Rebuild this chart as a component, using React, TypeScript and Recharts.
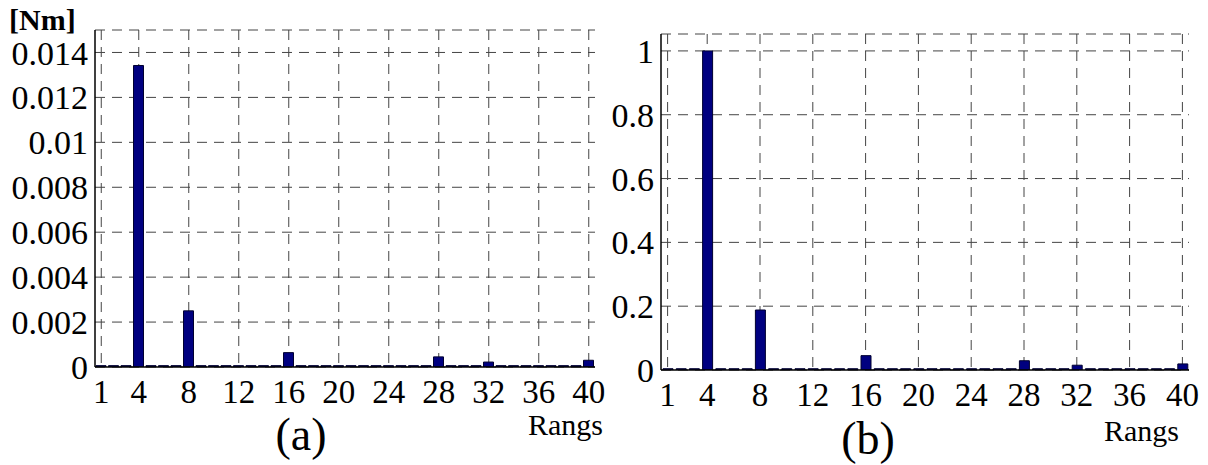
import React from 'react'
import { BarChart, Bar, XAxis, YAxis, CartesianGrid } from 'recharts'

// harmonic orders (Rangs)
const rangs = [1, 2, 3, 4, 5, 6, 7, 8, 9, 10, 11, 12, 13, 14, 15, 16, 17, 18, 19, 20,
  21, 22, 23, 24, 25, 26, 27, 28, 29, 30, 31, 32, 33, 34, 35, 36, 37, 38, 39, 40]

// (a) torque amplitude [Nm]
const torqueNm = [0.00006, 0.00006, 0.00006, 0.01342, 0.00006, 0.00006, 0.00006, 0.0025, 0.00006, 0.00006,
  0.00006, 0.00006, 0.00006, 0.00006, 0.00006, 0.00064, 0.00006, 0.00006, 0.00006, 0.00006,
  0.00006, 0.00006, 0.00006, 0.00006, 0.00006, 0.00006, 0.00006, 0.00045, 0.00006, 0.00006,
  0.00006, 0.00022, 0.00006, 0.00006, 0.00006, 0.00006, 0.00006, 0.00006, 0.00006, 0.0003]

// (b) normalised amplitude
const torqueRel = [0.004, 0.004, 0.004, 1.0, 0.004, 0.004, 0.004, 0.188, 0.004, 0.004,
  0.004, 0.004, 0.004, 0.004, 0.004, 0.045, 0.004, 0.004, 0.004, 0.004,
  0.004, 0.004, 0.004, 0.004, 0.004, 0.004, 0.004, 0.029, 0.004, 0.004,
  0.004, 0.015, 0.004, 0.004, 0.004, 0.004, 0.004, 0.004, 0.004, 0.019]

const xTicks = [1, 4, 8, 12, 16, 20, 24, 28, 32, 36, 40]
const topTicks = [1, 4, 6, 8, 10, 12, 14, 16, 18, 20, 22, 24, 26, 28, 30, 32, 34, 36, 38, 40]

const yTicksA = [0, 0.002, 0.004, 0.006, 0.008, 0.01, 0.012, 0.014]
const yMinorA = [0, 0.001, 0.002, 0.003, 0.004, 0.005, 0.006, 0.007, 0.008, 0.009, 0.01, 0.011, 0.012, 0.013, 0.014, 0.015]
const yTicksB = [0, 0.2, 0.4, 0.6, 0.8, 1]
const yMinorB = [0, 0.04, 0.08, 0.12, 0.16, 0.2, 0.24, 0.28, 0.32, 0.36, 0.4, 0.44, 0.48, 0.52, 0.56, 0.6,
  0.64, 0.68, 0.72, 0.76, 0.8, 0.84, 0.88, 0.92, 0.96, 1, 1.04]

const dataA = rangs.map((r, i) => ({ rang: r, value: torqueNm[i] }))
const dataB = rangs.map((r, i) => ({ rang: r, value: torqueRel[i] }))

const FONT = 'Times New Roman, Liberation Serif, serif'
const tickStyle = { fontSize: 34, fill: '#000', fontFamily: FONT }

interface PanelProps {
  data: { rang: number; value: number }[]
  width: number
  margin: { top: number; right: number; bottom: number; left: number }
  yWidth: number
  domainMax: number
  yTicks: number[]
  yMinor: number[]
}

const Panel = ({ data, width, margin, yWidth, domainMax, yTicks, yMinor }: PanelProps) => (
  <BarChart width={width} height={465} data={data} margin={margin} barSize={10} style={{ fontFamily: FONT }}>
    <CartesianGrid stroke="#444" strokeDasharray="10 7" verticalValues={xTicks} />
    <XAxis dataKey="rang" ticks={xTicks} interval={0} tickLine={false} tickSize={0} tickMargin={13}
      height={40} axisLine={{ stroke: '#000', strokeWidth: 1.5 }} tick={{ ...tickStyle, fontSize: 33 }} />
    <XAxis xAxisId="top" orientation="top" dataKey="rang" ticks={topTicks} interval={0} height={0}
      tick={false} tickSize={-5} axisLine={{ stroke: '#000', strokeWidth: 1.5 }} tickLine={{ stroke: '#000' }} />
    <YAxis domain={[0, domainMax]} ticks={yTicks} interval={0} width={yWidth} tickLine={false} tickSize={0}
      tickMargin={7} axisLine={{ stroke: '#000', strokeWidth: 1.5 }} tick={tickStyle} allowDataOverflow />
    <YAxis yAxisId="r" orientation="right" domain={[0, domainMax]} ticks={yMinor} interval={0} width={0}
      tick={false} tickSize={-5} axisLine={{ stroke: '#000', strokeWidth: 1.5 }} tickLine={{ stroke: '#000' }} allowDataOverflow />
    <Bar dataKey="value" fill="#000080" stroke="#000030" strokeWidth={1} isAnimationActive={false} />
  </BarChart>
)

const App = () => {
  return (
    <div style={{ position: 'absolute', left: 0, top: 0, width: 1208, height: 465, background: '#fff', fontFamily: FONT }}>
      <div style={{ position: 'absolute', left: 0, top: 0 }}>
        <Panel data={dataA} width={620} margin={{ top: 30, right: 25, bottom: 58, left: 0 }} yWidth={95}
          domainMax={0.015} yTicks={yTicksA} yMinor={yMinorA} />
      </div>
      <div style={{ position: 'absolute', left: 600, top: 0 }}>
        <Panel data={dataB} width={608} margin={{ top: 34, right: 19, bottom: 55, left: 0 }} yWidth={61}
          domainMax={1.053} yTicks={yTicksB} yMinor={yMinorB} />
      </div>
      <svg width={1208} height={465} style={{ position: 'absolute', left: 0, top: 0, pointerEvents: 'none' }}>
        <text x={9} y={30} fontFamily={FONT} fontWeight="bold" fontSize={30}>[Nm]</text>
        <text x={603} y={435} textAnchor="end" fontFamily={FONT} fontSize={30}>Rangs</text>
        <text x={1179} y={441} textAnchor="end" fontFamily={FONT} fontSize={30}>Rangs</text>
        <text x={301} y={450} textAnchor="middle" fontFamily={FONT} fontSize={46}>(a)</text>
        <text x={868} y={454} textAnchor="middle" fontFamily={FONT} fontSize={46}>(b)</text>
      </svg>
    </div>
  )
}

export default App
